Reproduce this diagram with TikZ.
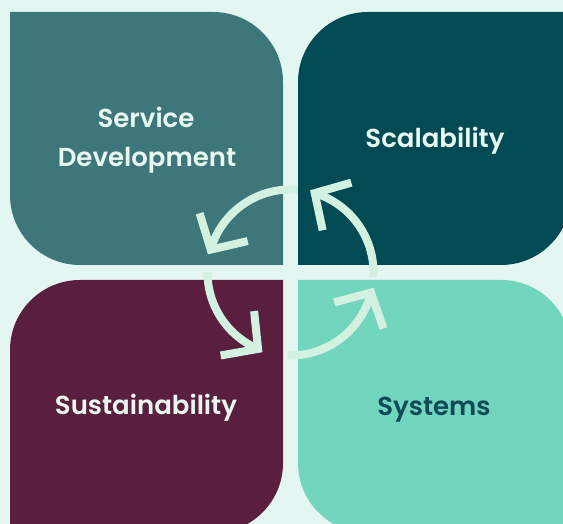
\documentclass[tikz,border=0pt]{standalone}
\usepackage{fontspec}
\setmainfont{Poppins}[BoldFont={Poppins SemiBold}]
\usetikzlibrary{calc}
\definecolor{bgc}{HTML}{E4F6F1}
\definecolor{tlc}{HTML}{3E7779}
\definecolor{trc}{HTML}{024B55}
\definecolor{blc}{HTML}{5A1F3E}
\definecolor{brc}{HTML}{72D5BE}
\definecolor{lightt}{HTML}{E8F7F1}
\definecolor{darkt}{HTML}{0E4B57}
\definecolor{cycc}{HTML}{D3F1E1}
\tikzset{
  lbl/.style={anchor=base, inner sep=0pt, font=\fontsize{26}{32}\selectfont\bfseries},
  cyc/.style={draw=cycc, line width=8pt, line cap=butt, line join=miter},
}
\begin{document}
\begin{tikzpicture}[x=1pt,y=1pt]
\useasboundingbox (0,0) rectangle (563,524);
\clip (0,0) rectangle (563,524);
\fill[bgc] (0,0) rectangle (563,524);
% panels
\fill[tlc] (10,512) -- (213,512) arc[start angle=90,end angle=0,radius=70] -- (283,259) -- (80,259) arc[start angle=270,end angle=180,radius=70] -- cycle;
\fill[trc] (298,259) -- (298,442) arc[start angle=180,end angle=90,radius=70] -- (571,512) -- (571,329) arc[start angle=0,end angle=-90,radius=70] -- cycle;
\fill[blc] (10,-9) -- (10,174) arc[start angle=180,end angle=90,radius=70] -- (283,244) -- (283,61) arc[start angle=0,end angle=-90,radius=70] -- cycle;
\fill[brc] (298,244) -- (501,244) arc[start angle=90,end angle=0,radius=70] -- (571,-9) -- (368,-9) arc[start angle=270,end angle=180,radius=70] -- cycle;
% labels
\node[lbl, text=lightt] (service) at (146,396) {Service};
\node[lbl, text=lightt] (development) at (147,357) {Development};
\node[lbl, text=lightt] (scalability) at (435,376) {Scalability};
\node[lbl, text=lightt] (sustainability) at (146,109) {Sustainability};
\node[lbl, text=darkt] (systems) at (434,108) {Systems};
% cycle arrows
\coordinate (c) at (290.5,251.5);
\foreach \s/\e in {85/164,180/247,268/346,-3/73}{
  \draw[cyc] ($(c)+(\s:83)$) arc[start angle=\s,end angle=\e,radius=83];
  \pgfmathsetmacro{\aa}{\e-57}
  \pgfmathsetmacro{\ab}{\e-151}
  \draw[cyc] ($(c)+(\e:83)+(\aa:38)$) -- ($(c)+(\e:83)$) -- ($(c)+(\e:83)+(\ab:38)$);
}
\end{tikzpicture}
\end{document}
